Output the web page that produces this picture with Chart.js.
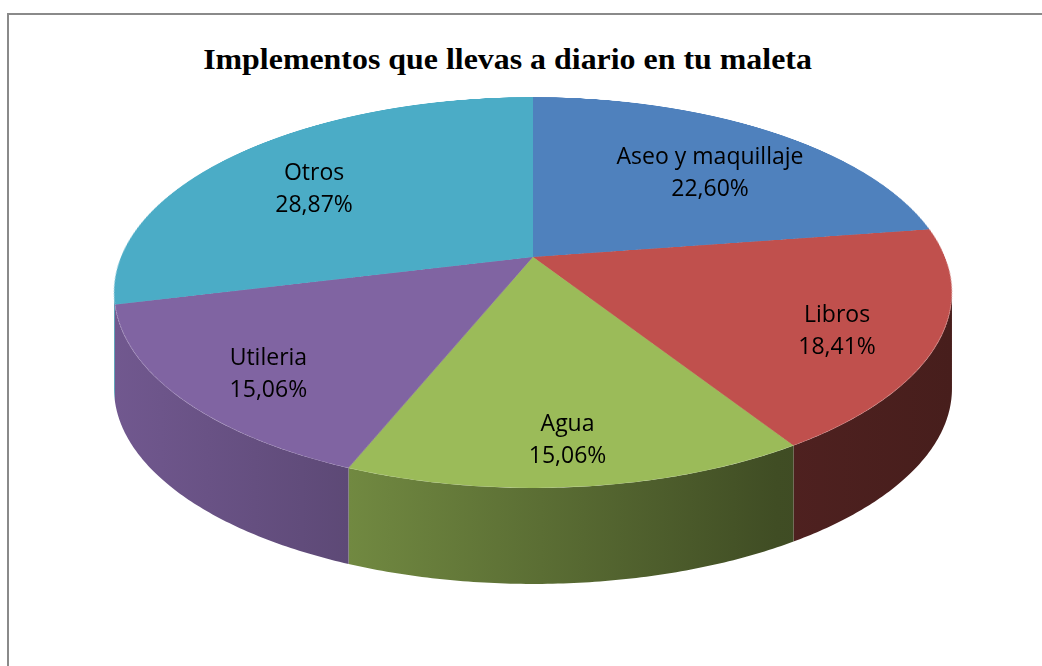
<!DOCTYPE html>
<html>
<head>
<meta charset="utf-8">
<script src="https://cdn.jsdelivr.net/npm/chart.js@4.4.0/dist/chart.umd.min.js"></script>
<style>
  html, body { margin: 0; padding: 0; background: #fff; width: 1042px; height: 666px; overflow: hidden; }
  #frame { position: absolute; left: 7px; top: 13px; width: 1100px; height: 700px;
           border-left: 2px solid #8a8a8a; border-top: 2px solid #8a8a8a; }
  #title { position: absolute; left: 0; top: 45px; width: 1015px; text-align: center;
           font: bold 29px "Liberation Serif", "Times New Roman", serif; line-height: 29px; color: #000;
           transform: scaleX(1.1); transform-origin: 507.5px 0; }
  #side, #pie { position: absolute; left: 0; top: 0; }
  #pie { transform-origin: 0 0; }
  .lbl { position: absolute; transform: translate(-50%, -50%); font: 23px "Open Sans", sans-serif;
         line-height: 32px; text-align: center; white-space: nowrap; color: #000; }
</style>
</head>
<body>
<div id="frame"></div>
<div id="title">Implementos que llevas a diario en tu maleta</div>
<canvas id="side" width="1042" height="666"></canvas>
<canvas id="pie" width="840" height="840"></canvas>
<script>
const categories = ['Aseo y maquillaje', 'Libros', 'Agua', 'Utileria', 'Otros'];
const shares = [22.60, 18.41, 15.06, 15.06, 28.87];
const colors = ['#4F81BD', '#C0504D', '#9BBB59', '#8064A2', '#4BACC6'];

// where the tilted pie lands on the page (perspective view like Excel's 3D pie)
const CX = 533, APEX_Y = 257, RX = 412, RY = 189, TILT = 0.1816, DEPTH = 96;
const LABEL_POS = 0.75;

const pctText = v => v.toFixed(2).replace('.', ',') + '%';

function shade(hex, f) {
  const n = parseInt(hex.slice(1), 16);
  return 'rgb(' + Math.round((n >> 16 & 255) * f) + ',' + Math.round((n >> 8 & 255) * f) + ',' + Math.round((n & 255) * f) + ')';
}

// chart angle (0 = right, clockwise) at fraction f of the radius -> page point
function project(a, f = 1) {
  const w = 1 - TILT * f * Math.sin(a);
  return [CX + RX * f * Math.cos(a) / w, APEX_Y + RY * f * Math.sin(a) / w];
}

const canvas = document.getElementById('pie');
const chart = new Chart(canvas, {
  type: 'pie',
  data: {
    labels: categories,
    datasets: [{ data: shares, backgroundColor: colors, borderWidth: 0 }]
  },
  options: {
    responsive: false,
    animation: false,
    devicePixelRatio: 2,
    events: [],
    layout: { padding: 0 },
    plugins: { legend: { display: false }, tooltip: { enabled: false } }
  }
});

// flat pie -> perspective ellipse
const arcs = chart.getDatasetMeta(0).data;
const R = arcs[0].outerRadius, ox = arcs[0].x, oy = arcs[0].y;
const w0 = 1 + TILT * oy / R;
const m = [
  RX / R, 0, 0, 0,
  -CX * TILT / R, (RY - APEX_Y * TILT) / R, 0, -TILT / R,
  0, 0, 1, 0,
  CX * w0 - RX * ox / R, APEX_Y * w0 - RY * oy / R, 0, w0
];
canvas.style.transform = 'matrix3d(' + m.join(',') + ')';

// side walls of the front half, using the slice angles of the chart
const sctx = document.getElementById('side').getContext('2d');
const aR = Math.asin(TILT), aL = Math.PI - aR;
const xL = project(aL)[0], xR = project(aR)[0];
arcs.forEach((arc, i) => {
  const lo = Math.max(arc.startAngle, aR), hi = Math.min(arc.endAngle, aL);
  if (lo >= hi) return;
  const g = sctx.createLinearGradient(xL, 0, xR, 0);
  g.addColorStop(0, shade(colors[i], 0.88));
  g.addColorStop(0.28, shade(colors[i], 0.73));
  g.addColorStop(0.79, shade(colors[i], 0.41));
  g.addColorStop(1, shade(colors[i], 0.37));
  const steps = 90;
  sctx.beginPath();
  for (let s = 0; s <= steps; s++) {
    const p = project(lo + (hi - lo) * s / steps);
    s ? sctx.lineTo(p[0], p[1]) : sctx.moveTo(p[0], p[1]);
  }
  for (let s = steps; s >= 0; s--) {
    const p = project(lo + (hi - lo) * s / steps);
    sctx.lineTo(p[0], p[1] + DEPTH);
  }
  sctx.closePath();
  sctx.fillStyle = g;
  sctx.fill();
});

// labels inside the slices
const eY = (project(-Math.PI / 2)[1] + project(Math.PI / 2)[1]) / 2;
arcs.forEach((arc, i) => {
  const p = project((arc.startAngle + arc.endAngle) / 2);
  const d = document.createElement('div');
  d.className = 'lbl';
  d.style.left = (CX + LABEL_POS * (p[0] - CX)) + 'px';
  d.style.top = (eY + LABEL_POS * (p[1] - eY)) + 'px';
  d.innerHTML = categories[i] + '<br>' + pctText(shares[i]);
  document.body.appendChild(d);
});
</script>
</body>
</html>
